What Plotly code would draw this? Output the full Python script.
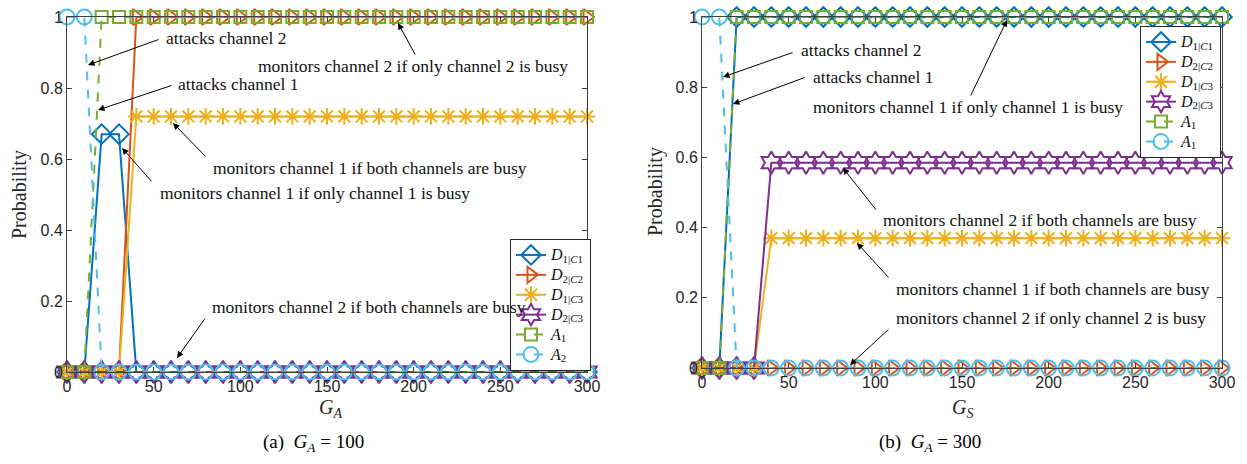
import plotly.graph_objects as go

# ---------------- data ----------------
x_vals = list(range(0, 301, 10))
n = len(x_vals)

# (a) G_A = 100, x axis G_A
a_D1C1 = [0, 0, 0.67, 0.67] + [0] * (n - 4)
a_D2C2 = [0, 0, 0, 0] + [1] * (n - 4)
a_D1C3 = [0, 0, 0, 0] + [0.72] * (n - 4)
a_D2C3 = [0] * n
a_A1 = [0, 0] + [1] * (n - 2)
a_A2 = [1, 1] + [0] * (n - 2)

# (b) G_A = 300, x axis G_S
b_D1C1 = [0, 0] + [1] * (n - 2)
b_D2C2 = [0] * n
b_D1C3 = [0, 0, 0, 0] + [0.37] * (n - 4)
b_D2C3 = [0, 0, 0, 0] + [0.585] * (n - 4)
b_A1 = [0, 0] + [1] * (n - 2)
b_A1b = [1, 1] + [0] * (n - 2)

x_ticks = [0, 50, 100, 150, 200, 250, 300]
y_ticks = [0, 0.2, 0.4, 0.6, 0.8, 1]
y_tick_text = ["0", "0.2", "0.4", "0.6", "0.8", "1"]


def lg(main, sub):
    return ('<span style="font-size:16px"><i>%s</i></span>'
            '<sub><span style="font-size:11px">%s</span></sub>' % (main, sub))


names_a = [lg("D", "1|<i>C</i>1"), lg("D", "2|<i>C</i>2"), lg("D", "1|<i>C</i>3"),
           lg("D", "2|<i>C</i>3"), lg("A", "1"), lg("A", "2")]
names_b = [lg("D", "1|<i>C</i>1"), lg("D", "2|<i>C</i>2"), lg("D", "1|<i>C</i>3"),
           lg("D", "2|<i>C</i>3"), lg("A", "1"), lg("A", "1")]

# ---------------- styles ----------------
colors = ["#0072BD", "#D95319", "#EDB120", "#7E2F8E", "#77AC30", "#4DBEEE"]
symbols = ["diamond-open", "triangle-right-open", "asterisk-open", "hexagram-open",
           "square-open", "circle-open"]
msizes = [15, 14, 14, 17, 12, 15]
dashes = ["solid", "solid", "solid", "solid", "dash", "dash"]

W, H = 1247, 464
LA = dict(x0=67, x1=587, y0=372, y1=17)     # panel (a) pixel box
RB = dict(x0=702, x1=1222, y0=368, y1=17)   # panel (b) pixel box


def dom(b):
    return ([b["x0"] / W, b["x1"] / W], [(H - b["y0"]) / H, (H - b["y1"]) / H])


def to_data(b, px, py):
    return ((px - b["x0"]) / (b["x1"] - b["x0"]) * 300, (b["y0"] - py) / (b["y0"] - b["y1"]))


fig = go.Figure()

series_a = [a_D1C1, a_D2C2, a_D1C3, a_D2C3, a_A1, a_A2]
series_b = [b_D1C1, b_D2C2, b_D1C3, b_D2C3, b_A1, b_A1b]

for i, ys in enumerate(series_a):
    fig.add_trace(go.Scatter(
        x=x_vals, y=ys, mode="lines+markers", name=names_a[i],
        line=dict(color=colors[i], width=2, dash=dashes[i]),
        marker=dict(symbol=symbols[i], size=msizes[i], color=colors[i],
                    line=dict(width=2, color=colors[i])),
        cliponaxis=False, xaxis="x", yaxis="y", legend="legend"))

for i, ys in enumerate(series_b):
    fig.add_trace(go.Scatter(
        x=x_vals, y=ys, mode="lines+markers", name=names_b[i],
        line=dict(color=colors[i], width=2, dash=dashes[i]),
        marker=dict(symbol=symbols[i], size=msizes[i], color=colors[i],
                    line=dict(width=2, color=colors[i])),
        cliponaxis=False, xaxis="x2", yaxis="y2", legend="legend2"))

axis_col = "#404040"
tick_font = dict(family="Liberation Sans", size=16, color="#262626")
common_x = dict(range=[0, 300], tickvals=x_ticks, ticks="inside", ticklen=5, automargin=False,
                showline=True, linecolor=axis_col, linewidth=1, mirror="allticks",
                showgrid=False, zeroline=False, tickfont=tick_font, tickcolor=axis_col)
common_y = dict(range=[0, 1], tickvals=y_ticks, ticktext=y_tick_text, ticks="inside", ticklen=5,
                automargin=False,
                showline=True, linecolor=axis_col, linewidth=1, mirror="allticks",
                showgrid=False, zeroline=False, tickfont=tick_font, tickcolor=axis_col)

dxa, dya = dom(LA)
dxb, dyb = dom(RB)

legend_common = dict(bgcolor="white", bordercolor="#262626", borderwidth=1,
                     font=dict(family="Liberation Serif", size=13, color="#111"),
                     itemwidth=30, tracegroupgap=0, xanchor="left", yanchor="top")

fig.update_layout(
    width=W, height=H, margin=dict(l=0, r=0, t=0, b=0, autoexpand=False),
    plot_bgcolor="white", paper_bgcolor="white",
    xaxis=dict(domain=dxa, anchor="y", **common_x),
    yaxis=dict(domain=dya, anchor="x", **common_y),
    xaxis2=dict(domain=dxb, anchor="y2", **common_x),
    yaxis2=dict(domain=dyb, anchor="x2", **common_y),
    legend=dict(x=510 / W, y=(H - 239) / H, **legend_common),
    legend2=dict(x=1140 / W, y=(H - 26) / H, **legend_common),
    showlegend=True,
)

ann_font = dict(family="Liberation Serif", size=17.5, color="#111")

# (text, text_left_px, text_center_py, tail_px, tail_py, head_px, head_py)
notes_a = [
    ("attacks channel 2", 164, 38, 160, 39, 88, 65),
    ("attacks channel 1", 176, 84, 173, 85, 98, 110),
    ("monitors channel 2 if only channel 2 is busy", 256, 66, 416, 56, 398, 23),
    ("monitors channel 1 if both channels are busy", 211, 168, 207, 158, 173, 123),
    ("monitors channel 1 if only channel 1 is busy", 158, 193, 153, 183, 122, 148),
    ("monitors channel 2 if both channels are busy", 210, 307, 206, 317, 177, 358),
]
notes_b = [
    ("attacks channel 2", 799, 50, 794, 52, 723, 77),
    ("attacks channel 1", 811, 77, 806, 77, 733, 104),
    ("monitors channel 1 if only channel 1 is busy", 811, 107, 970, 97, 1007, 20),
    ("monitors channel 2 if both channels are busy", 881, 220, 877, 211, 843, 168),
    ("monitors channel 1 if both channels are busy", 894, 289, 890, 279, 857, 243),
    ("monitors channel 2 if only channel 2 is busy", 894, 318, 890, 328, 850, 365),
]

anns = []
for notes, box, xr, yr in [(notes_a, LA, "x", "y"), (notes_b, RB, "x2", "y2")]:
    for txt, tx, ty, ax_, ay_, hx, hy in notes:
        px, py = to_data(box, tx, ty)
        anns.append(dict(text=txt, x=px, y=py, xref=xr, yref=yr, xanchor="left",
                         yanchor="middle", showarrow=False, font=ann_font))
        hxd, hyd = to_data(box, hx, hy)
        txd, tyd = to_data(box, ax_, ay_)
        anns.append(dict(text="", x=hxd, y=hyd, xref=xr, yref=yr, ax=txd, ay=tyd,
                         axref=xr, ayref=yr, showarrow=True, arrowhead=2, arrowsize=1.3,
                         arrowwidth=1, arrowcolor="black", standoff=0, startstandoff=0))

title_font = dict(family="Liberation Serif", size=20, color="#262626")
cap_font = dict(family="Liberation Serif", size=19, color="black")
centered = dict(xref="paper", yref="paper", xanchor="center", yanchor="middle", showarrow=False)
anns += [
    dict(text="Probability", x=20 / W, y=(H - 195) / H, textangle=-90, font=title_font, **centered),
    dict(text="Probability", x=655 / W, y=(H - 192) / H, textangle=-90, font=title_font, **centered),
    dict(text="<i>G</i><sub><i>A</i></sub>", x=330 / W, y=(H - 408) / H, font=title_font, **centered),
    dict(text="<i>G</i><sub><i>S</i></sub>", x=962 / W, y=(H - 408) / H, font=title_font, **centered),
    dict(text="(a)  <i>G</i><sub><i>A</i></sub> = 100", x=313 / W, y=(H - 443) / H,
         font=cap_font, **centered),
    dict(text="(b)  <i>G</i><sub><i>A</i></sub> = 300", x=930 / W, y=(H - 443) / H,
         font=cap_font, **centered),
]
fig.update_layout(annotations=anns)

fig.write_html("out.html", config={"displayModeBar": False},
               post_script="document.body.style.margin='0px';")
